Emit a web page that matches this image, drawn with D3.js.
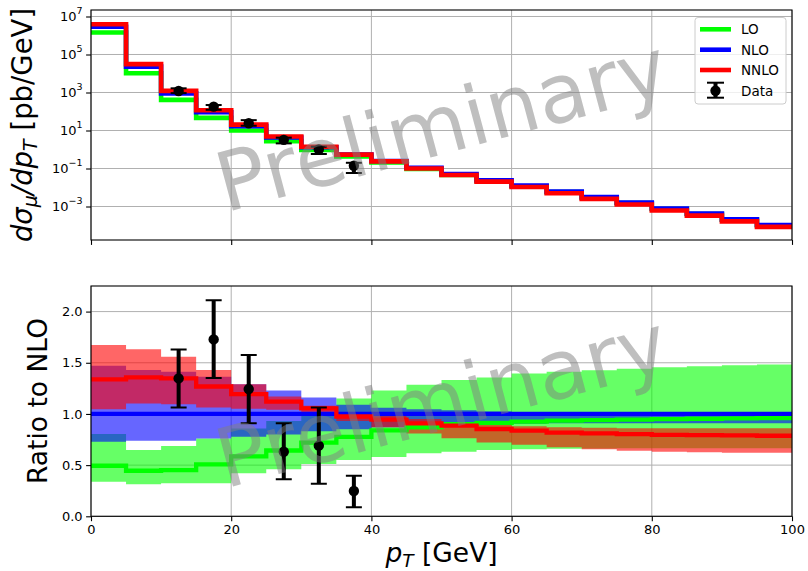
<!DOCTYPE html>
<html>
<head>
<meta charset="utf-8">
<script src="https://cdn.jsdelivr.net/npm/d3@7"></script>
<style>
body { margin: 0; background: #fff; }
text { font-family: "DejaVu Sans", sans-serif; }
</style>
</head>
<body>
<script>
// pT bins [GeV]
var binEdges = [0, 5, 10, 15, 20, 25, 30, 35, 40, 45, 50, 55, 60, 65, 70, 75, 80, 85, 90, 95, 100];

// NLO cross section per bin [pb/GeV]
var nlo = [2.9e6, 2.3e4, 9.0e2, 91, 17, 4.3, 1.32, 0.55, 0.25, 0.11, 0.051, 0.024, 0.0126, 0.0061, 0.0031, 0.0016, 7.8e-4, 4.2e-4, 2.1e-4, 1.07e-4];

// central ratios to NLO
var loRatio = [0.494, 0.445, 0.452, 0.508, 0.585, 0.643, 0.72, 0.775, 0.84, 0.87, 0.9, 0.912, 0.925, 0.935, 0.94, 0.945, 0.95, 0.953, 0.956, 0.96];
var nnloRatio = [1.338, 1.357, 1.348, 1.268, 1.194, 1.12, 1.055, 0.975, 0.945, 0.908, 0.885, 0.853, 0.838, 0.818, 0.81, 0.803, 0.795, 0.793, 0.79, 0.787];

// scale uncertainty bands (ratio to NLO)
var loBandLow = [0.338, 0.312, 0.322, 0.322, 0.42, 0.46, 0.51, 0.55, 0.58, 0.615, 0.63, 0.648, 0.655, 0.66, 0.662, 0.664, 0.664, 0.664, 0.664, 0.664];
var loBandHigh = [0.804, 0.647, 0.687, 0.76, 0.859, 0.93, 1.01, 1.152, 1.228, 1.285, 1.331, 1.357, 1.396, 1.412, 1.428, 1.442, 1.455, 1.465, 1.475, 1.484];
var nloBandLow = [0.729, 0.738, 0.738, 0.76, 0.777, 0.8, 0.83, 0.85, 0.87, 0.89, 0.9, 0.905, 0.905, 0.908, 0.908, 0.908, 0.908, 0.908, 0.908, 0.908];
var nloBandHigh = [1.471, 1.429, 1.412, 1.363, 1.29, 1.23, 1.16, 1.09, 1.06, 1.045, 1.035, 1.025, 1.02, 1.015, 1.01, 1.01, 1.01, 1.01, 1.01, 1.01];
var nnloBandLow = [1.045, 1.103, 1.094, 1.064, 1.05, 1.04, 1.0, 0.93, 0.87, 0.81, 0.762, 0.72, 0.7, 0.675, 0.655, 0.64, 0.63, 0.625, 0.62, 0.62];
var nnloBandHigh = [1.673, 1.631, 1.559, 1.429, 1.289, 1.17, 1.08, 1.02, 0.98, 0.95, 0.92, 0.895, 0.88, 0.87, 0.865, 0.86, 0.86, 0.86, 0.86, 0.86];

// data points
var dataPt = [12.5, 17.5, 22.5, 27.5, 32.5, 37.5];
var dataXsec = [1.2e3, 180, 24, 3.2, 1.0, 0.14];
var dataXsecLow = [930, 123, 17.8, 2.1, 0.58, 0.058];
var dataXsecHigh = [1660, 219, 35, 4.2, 1.4, 0.2];
var dataRatio = [1.347, 1.728, 1.243, 0.631, 0.69, 0.247];
var dataRatioLow = [1.064, 1.35, 0.908, 0.361, 0.318, 0.088];
var dataRatioHigh = [1.63, 2.11, 1.575, 0.908, 1.064, 0.396];

// ticks
var xTicks = [0, 20, 40, 60, 80, 100];
var logTicks = [7, 5, 3, 1, -1, -3];
var ratioTicks = [0, 0.5, 1.0, 1.5, 2.0];

var orders = ["LO", "NLO", "NNLO"];
var colors = { LO: "#00ff00", NLO: "#0000ff", NNLO: "#ff0000" };

var svg = d3.select("body").append("svg")
    .attr("width", 808)
    .attr("height", 571);

var x = d3.scaleLinear().domain([0, 100]).range([91, 792]);

window.onload = function () {
    setTop();
    setBottom();
};

function stepPoints(vals) {
    var pts = [];
    vals.forEach(function (v, i) {
        pts.push([binEdges[i], v]);
        pts.push([binEdges[i + 1], v]);
    });
    return pts;
}

function stepBand(lo, hi) {
    var pts = [];
    lo.forEach(function (v, i) {
        pts.push({ x: binEdges[i], lo: v, hi: hi[i] });
        pts.push({ x: binEdges[i + 1], lo: v, hi: hi[i] });
    });
    return pts;
}

function frame(g, y, yTickVals, top, bottom, id) {
    var grid = g.append("g").attr("class", "grid");
    grid.selectAll(".gx")
        .data(xTicks)
        .enter()
        .append("line")
        .attr("x1", function (d) { return x(d); })
        .attr("x2", function (d) { return x(d); })
        .attr("y1", top)
        .attr("y2", bottom)
        .attr("stroke", "#b0b0b0")
        .attr("stroke-width", 1);
    grid.selectAll(".gy")
        .data(yTickVals)
        .enter()
        .append("line")
        .attr("x1", 91)
        .attr("x2", 792)
        .attr("y1", function (d) { return y(d); })
        .attr("y2", function (d) { return y(d); })
        .attr("stroke", "#b0b0b0")
        .attr("stroke-width", 1);

    g.append("clipPath")
        .attr("id", id)
        .append("rect")
        .attr("x", 91)
        .attr("y", top)
        .attr("width", 701)
        .attr("height", bottom - top);
}

function spines(g, top, bottom) {
    g.append("rect")
        .attr("x", 91)
        .attr("y", top)
        .attr("width", 701)
        .attr("height", bottom - top)
        .attr("fill", "none")
        .attr("stroke", "#000")
        .attr("stroke-width", 1.1);
}

function styleAxis(ax) {
    ax.select(".domain").remove();
    ax.selectAll(".tick line").attr("stroke-width", 1.1);
    ax.selectAll("text")
        .attr("font-size", 13)
        .attr("font-family", "DejaVu Sans")
        .attr("fill", "#000");
}

function drawData(g, y, vals, lows, highs) {
    var pts = g.append("g").attr("class", "data");
    dataPt.forEach(function (p, i) {
        pts.append("line")
            .attr("x1", x(p)).attr("x2", x(p))
            .attr("y1", y(lows[i])).attr("y2", y(highs[i]))
            .attr("stroke", "#000").attr("stroke-width", 4);
        [lows[i], highs[i]].forEach(function (e) {
            pts.append("line")
                .attr("x1", x(p) - 8).attr("x2", x(p) + 8)
                .attr("y1", y(e)).attr("y2", y(e))
                .attr("stroke", "#000").attr("stroke-width", 2);
        });
        pts.append("circle")
            .attr("cx", x(p)).attr("cy", y(vals[i]))
            .attr("r", 5.2).attr("fill", "#000");
    });
}

function watermark(g, cx, cy) {
    g.append("text")
        .attr("x", cx)
        .attr("y", cy)
        .attr("transform", "rotate(-15," + cx + "," + cy + ")")
        .attr("text-anchor", "middle")
        .attr("dominant-baseline", "central")
        .attr("font-size", 82)
        .attr("fill", "#808080")
        .attr("fill-opacity", 0.5)
        .text("Preliminary");
}

function setTop() {
    var top = 10, bottom = 240;
    var g = svg.append("g").classed("topPanel", true);
    var y = d3.scaleLog()
        .domain([Math.pow(10, -4.763), Math.pow(10, 7.342)])
        .range([bottom, top]);
    var tickVals = logTicks.map(function (p) { return Math.pow(10, p); });

    frame(g, y, tickVals, top, bottom, "clipTop");

    var series = {
        LO: nlo.map(function (v, i) { return v * loRatio[i]; }),
        NLO: nlo,
        NNLO: nlo.map(function (v, i) { return v * nnloRatio[i]; })
    };

    var line = d3.line()
        .x(function (d) { return x(d[0]); })
        .y(function (d) { return y(d[1]); });

    var plot = g.append("g").attr("clip-path", "url(#clipTop)");
    orders.forEach(function (o) {
        plot.append("path")
            .datum(stepPoints(series[o]))
            .attr("d", line)
            .attr("fill", "none")
            .attr("stroke", colors[o])
            .attr("stroke-width", 4.6);
    });

    drawData(plot, y, dataXsec, dataXsecLow, dataXsecHigh);

    var xAx = g.append("g")
        .attr("transform", "translate(0," + bottom + ")")
        .call(d3.axisBottom(x).tickValues(xTicks).tickSize(4.9).tickFormat(""));
    styleAxis(xAx);

    var yAx = g.append("g")
        .attr("transform", "translate(91,0)")
        .call(d3.axisLeft(y).tickValues(tickVals).tickSize(4.9).tickPadding(3.5).tickFormat(""));
    styleAxis(yAx);
    yAx.selectAll(".tick text").each(function (d) {
        var t = d3.select(this);
        var p = Math.round(Math.log10(d));
        t.append("tspan").text("10");
        t.append("tspan")
            .attr("dy", -7)
            .attr("font-size", 9.5)
            .text(p < 0 ? "\u2212" + Math.abs(p) : String(p));
    });

    spines(g, top, bottom);
    watermark(g, 441.5, 125);

    // y label
    var lab = g.append("text")
        .attr("transform", "translate(32,125) rotate(-90)")
        .attr("text-anchor", "middle")
        .attr("font-size", 27.5);
    lab.append("tspan").attr("font-style", "italic").text("d\u03c3");
    lab.append("tspan").attr("font-style", "italic").attr("font-size", 19).attr("dy", 5).text("\u03bc");
    lab.append("tspan").attr("font-style", "italic").attr("dy", -5).text("/dp");
    lab.append("tspan").attr("font-style", "italic").attr("font-size", 19).attr("dy", 5).text("T");
    lab.append("tspan").attr("dy", -5).text(" [pb/GeV]");

    // legend
    var leg = g.append("g").classed("legend", true);
    leg.append("rect")
        .attr("x", 695).attr("y", 17.5)
        .attr("width", 91).attr("height", 86.5)
        .attr("rx", 3)
        .attr("fill", "#fff").attr("fill-opacity", 0.8)
        .attr("stroke", "#cccccc").attr("stroke-width", 1);
    var rows = [29.3, 49.7, 70, 90.7];
    orders.forEach(function (o, i) {
        leg.append("line")
            .attr("x1", 700).attr("x2", 731)
            .attr("y1", rows[i]).attr("y2", rows[i])
            .attr("stroke", colors[o]).attr("stroke-width", 4.6);
        leg.append("text")
            .attr("x", 741).attr("y", rows[i])
            .attr("dominant-baseline", "central")
            .attr("font-size", 13.5)
            .text(o);
    });
    var dy = rows[3];
    leg.append("line").attr("x1", 715.5).attr("x2", 715.5).attr("y1", dy - 8).attr("y2", dy + 7)
        .attr("stroke", "#000").attr("stroke-width", 4);
    [dy - 8, dy + 7].forEach(function (c) {
        leg.append("line").attr("x1", 707).attr("x2", 724).attr("y1", c).attr("y2", c)
            .attr("stroke", "#000").attr("stroke-width", 2);
    });
    leg.append("circle").attr("cx", 715.5).attr("cy", dy).attr("r", 5.2).attr("fill", "#000");
    leg.append("text")
        .attr("x", 741).attr("y", dy)
        .attr("dominant-baseline", "central")
        .attr("font-size", 13.5)
        .text("Data");
}

function setBottom() {
    var top = 286, bottom = 516.3;
    var g = svg.append("g").classed("bottomPanel", true);
    var y = d3.scaleLinear().domain([0, 2.25]).range([bottom, top]);

    frame(g, y, ratioTicks, top, bottom, "clipBottom");

    var plot = g.append("g").attr("clip-path", "url(#clipBottom)");

    var area = d3.area()
        .x(function (d) { return x(d.x); })
        .y0(function (d) { return y(d.lo); })
        .y1(function (d) { return y(d.hi); });

    var bands = {
        LO: stepBand(loBandLow, loBandHigh),
        NLO: stepBand(nloBandLow, nloBandHigh),
        NNLO: stepBand(nnloBandLow, nnloBandHigh)
    };
    orders.forEach(function (o) {
        plot.append("path")
            .datum(bands[o])
            .attr("d", area)
            .attr("fill", colors[o])
            .attr("fill-opacity", 0.6);
    });

    var ratios = {
        LO: loRatio,
        NLO: nlo.map(function (v) { return v / v; }),
        NNLO: nnloRatio
    };
    var line = d3.line()
        .x(function (d) { return x(d[0]); })
        .y(function (d) { return y(d[1]); });
    orders.forEach(function (o) {
        plot.append("path")
            .datum(stepPoints(ratios[o]))
            .attr("d", line)
            .attr("fill", "none")
            .attr("stroke", colors[o])
            .attr("stroke-width", 4.3);
    });

    drawData(plot, y, dataRatio, dataRatioLow, dataRatioHigh);

    var xAx = g.append("g")
        .attr("transform", "translate(0," + bottom + ")")
        .call(d3.axisBottom(x).tickValues(xTicks).tickSize(4.9).tickPadding(3.5).tickFormat(d3.format("d")));
    styleAxis(xAx);

    var yAx = g.append("g")
        .attr("transform", "translate(91,0)")
        .call(d3.axisLeft(y).tickValues(ratioTicks).tickSize(4.9).tickPadding(3.5).tickFormat(d3.format(".1f")));
    styleAxis(yAx);

    spines(g, top, bottom);
    watermark(g, 441.5, 401);

    g.append("text")
        .attr("transform", "translate(47,401) rotate(-90)")
        .attr("text-anchor", "middle")
        .attr("font-size", 26.5)
        .text("Ratio to NLO");

    var xl = g.append("text")
        .attr("x", 441.5)
        .attr("y", 562)
        .attr("text-anchor", "middle")
        .attr("font-size", 26.5);
    xl.append("tspan").attr("font-style", "italic").text("p");
    xl.append("tspan").attr("font-style", "italic").attr("font-size", 18.5).attr("dy", 5).text("T");
    xl.append("tspan").attr("dy", -5).text(" [GeV]");
}
</script>
</body>
</html>
